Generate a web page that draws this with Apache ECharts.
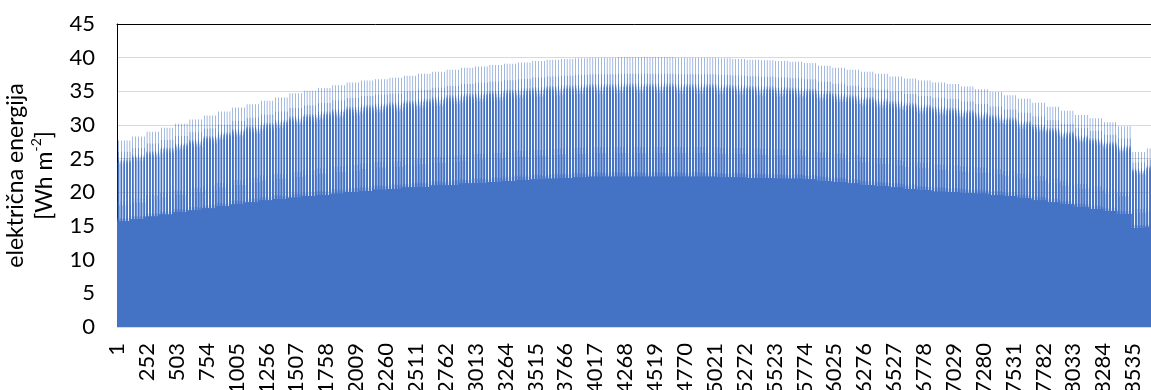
<!DOCTYPE html>
<html>
<head>
<meta charset="utf-8">
<script src="https://cdn.jsdelivr.net/npm/echarts@6/dist/echarts.min.js"></script>
<style>
html,body{margin:0;padding:0;background:#fff;}
#chart{width:1151px;height:390px;}
</style>
</head>
<body>
<div id="chart"></div>
<script>
// Night (base) level for each 5-day block of the year (73 blocks = 365 days)
const baseLevel = [
 15.7,16.0,16.4,16.7,17.0,17.3,17.6,17.9,18.2,18.5,
 18.8,19.0,19.2,19.4,19.6,19.8,20.0,20.2,20.4,20.5,
 20.7,20.8,21.0,21.1,21.3,21.4,21.5,21.7,21.8,21.9,
 22.0,22.1,22.2,22.3,22.3,22.3,22.3,22.3,22.3,22.3,
 22.3,22.3,22.2,22.2,22.1,22.1,22.0,22.0,21.9,21.7,
 21.5,21.3,21.1,20.9,20.7,20.5,20.3,20.1,20.0,19.9,
 19.8,19.6,19.4,19.1,18.8,18.5,18.2,17.8,17.5,17.2,
 16.8,14.7,14.8
];
// Daily peak level for each 5-day block
const peakLevel = [
 27.7,28.3,29.0,29.6,30.2,30.8,31.4,32.0,32.6,33.1,
 33.6,34.1,34.7,35.1,35.5,35.9,36.3,36.6,36.8,37.0,
 37.3,37.6,37.9,38.2,38.5,38.7,38.9,39.1,39.3,39.5,
 39.7,39.8,39.9,40.0,40.0,40.1,40.1,40.1,40.1,40.0,
 40.0,40.0,39.9,39.8,39.7,39.6,39.5,39.4,39.2,38.8,
 38.5,38.2,37.9,37.6,37.2,36.9,36.6,36.3,36.1,35.7,
 35.3,34.9,34.4,33.9,33.3,32.7,32.1,31.5,31.0,30.4,
 29.8,26.0,26.5
];
// Shape of one day (24 hours): share of the way from night level to peak
const hourShape = [0,0,0,0,0,0,0.04,0.25,0.72,0.75,0.76,0.78,1.00,0.86,0.77,0.75,0.73,0.70,0.20,0.03,0,0,0,0];
const daysPerBlock = 5;
const labelStep = 251;

const hours = [];
const values = [];
for (let b = 0; b < baseLevel.length; b++) {
  for (let d = 0; d < daysPerBlock; d++) {
    for (let h = 0; h < 24; h++) {
      hours.push(String(hours.length + 1));
      values.push(+(baseLevel[b] + (peakLevel[b] - baseLevel[b]) * hourShape[h]).toFixed(2));
    }
  }
}

const FONT = 'Lato, "Open Sans", sans-serif';
const chart = echarts.init(document.getElementById('chart'), null, {renderer: 'canvas'});
chart.setOption({
  animation: false,
  backgroundColor: '#ffffff',
  grid: {left: 117, top: 24, width: 1043, height: 303, containLabel: false, outerBoundsMode: 'none'},
  xAxis: [{
    type: 'category',
    data: hours,
    boundaryGap: true,
    axisLine: {show: true, lineStyle: {color: '#d9d9d9', width: 1}},
    axisTick: {show: false},
    axisLabel: {
      interval: labelStep - 1,
      rotate: 90,
      margin: 16,
      padding: [9, 0, 0, 0],
      color: '#000',
      fontFamily: FONT,
      fontSize: 22,
      hideOverlap: false
    },
    splitLine: {show: false}
  }, {
    type: 'value',
    position: 'top',
    min: 0, max: 1,
    axisLine: {show: true, onZero: false, lineStyle: {color: '#000', width: 1}},
    axisTick: {show: false},
    axisLabel: {show: false},
    splitLine: {show: false}
  }],
  yAxis: {
    type: 'value',
    min: 0, max: 45, interval: 5,
    name: '{t|električna energija}\n{t|[Wh m}{sup|-2}{t|]}',
    nameLocation: 'middle',
    nameRotate: 90,
    nameGap: 51,
    nameTextStyle: {
      color: '#000', fontFamily: FONT, fontSize: 23, lineHeight: 29, align: 'center',
      rich: {
        t: {fontFamily: FONT, fontSize: 23, lineHeight: 29, color: '#000'},
        sup: {fontFamily: FONT, fontSize: 14, lineHeight: 29, verticalAlign: 'top', color: '#000'}
      }
    },
    axisLine: {show: true, lineStyle: {color: '#000', width: 1}},
    axisTick: {show: false},
    axisLabel: {color: '#000', fontFamily: FONT, fontSize: 22, margin: 22},
    splitLine: {show: true, lineStyle: {color: '#d9d9d9', width: 1}}
  },
  series: [{
    type: 'bar',
    data: values,
    large: true,
    largeThreshold: 100,
    barCategoryGap: '0%',
    itemStyle: {color: '#4472c4'}
  }]
});
</script>
</body>
</html>
